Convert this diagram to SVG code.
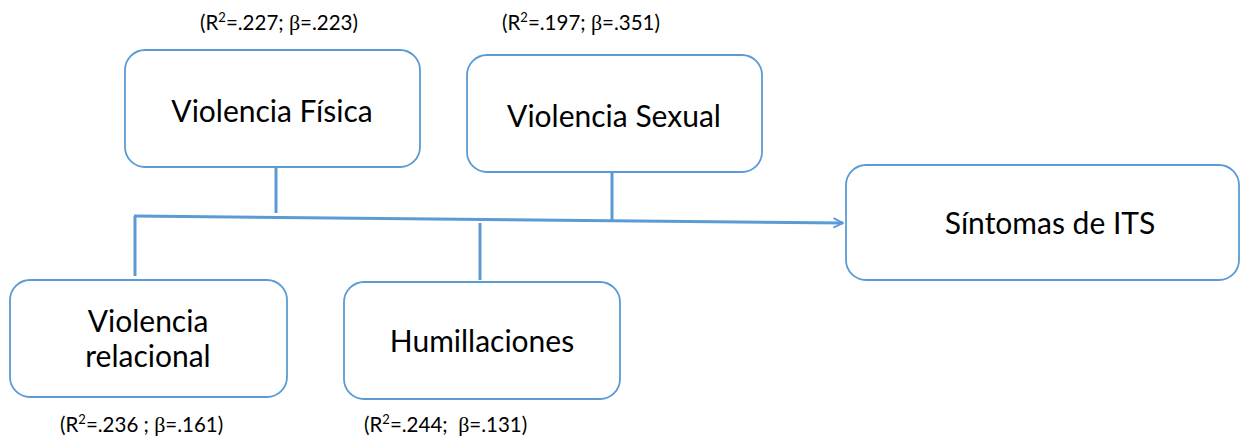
<svg xmlns="http://www.w3.org/2000/svg" width="1241" height="436" viewBox="0 0 1241 436">
<style>
.box{fill:#fff;stroke:#5B9BD5;stroke-width:1.8}
.t{font-family:Lato,"Open Sans",sans-serif;font-size:30px;fill:#000;text-anchor:middle}
.s{font-family:Lato,"Open Sans",sans-serif;font-size:20.5px;fill:#000;white-space:pre}
.b{font-family:"Liberation Serif",serif;font-size:22px}
.ln{stroke:#5B9BD5;stroke-width:3;fill:none}
</style>
<defs>
<marker id="ah" viewBox="0 0 10 10" refX="9" refY="5" markerWidth="4" markerHeight="4" orient="auto" markerUnits="strokeWidth">
<path d="M1,1 L9,5 L1,9" fill="none" stroke="#5B9BD5" stroke-width="1.6"/>
</marker>
</defs>
<g id="connectors">
<line class="ln" x1="276" y1="168" x2="276" y2="213"/>
<line class="ln" x1="612" y1="166" x2="612" y2="221"/>
<line class="ln" x1="135" y1="276" x2="135" y2="216"/>
<line class="ln" x1="480" y1="223" x2="480" y2="280"/>
<line class="ln" x1="134" y1="216" x2="843" y2="223" marker-end="url(#ah)"/>
</g>
<g id="fisica">
<rect class="box" x="125" y="50" width="295" height="117" rx="20"/>
<text class="t" x="272" y="122">Violencia Física</text>
<text class="s" x="200" y="30">(R<tspan font-size="13" dy="-8">2</tspan><tspan dy="8">=.227; </tspan><tspan class="b">β</tspan>=.223)</text>
</g>
<g id="sexual">
<rect class="box" x="467" y="55" width="295" height="117" rx="20"/>
<text class="t" x="614" y="127">Violencia Sexual</text>
<text class="s" x="502" y="30">(R<tspan font-size="13" dy="-8">2</tspan><tspan dy="8">=.197; </tspan><tspan class="b">β</tspan>=.351)</text>
</g>
<g id="its">
<rect class="box" x="846" y="165" width="393" height="115" rx="20"/>
<text class="t" x="1050" y="234">Síntomas de ITS</text>
</g>
<g id="relacional">
<rect class="box" x="10" y="280" width="277" height="117" rx="20"/>
<text class="t" x="148" y="332">Violencia</text>
<text class="t" x="148" y="367">relacional</text>
<text class="s" x="60" y="432">(R<tspan font-size="13" dy="-8">2</tspan><tspan dy="8">=.236 ; </tspan><tspan class="b">β</tspan>=.161)</text>
</g>
<g id="humillaciones">
<rect class="box" x="344" y="282" width="276" height="117" rx="20"/>
<text class="t" x="482" y="352">Humillaciones</text>
<text class="s" x="364" y="432">(R<tspan font-size="13" dy="-8">2</tspan><tspan dy="8">=.244;  </tspan><tspan class="b">β</tspan>=.131)</text>
</g>
</svg>
